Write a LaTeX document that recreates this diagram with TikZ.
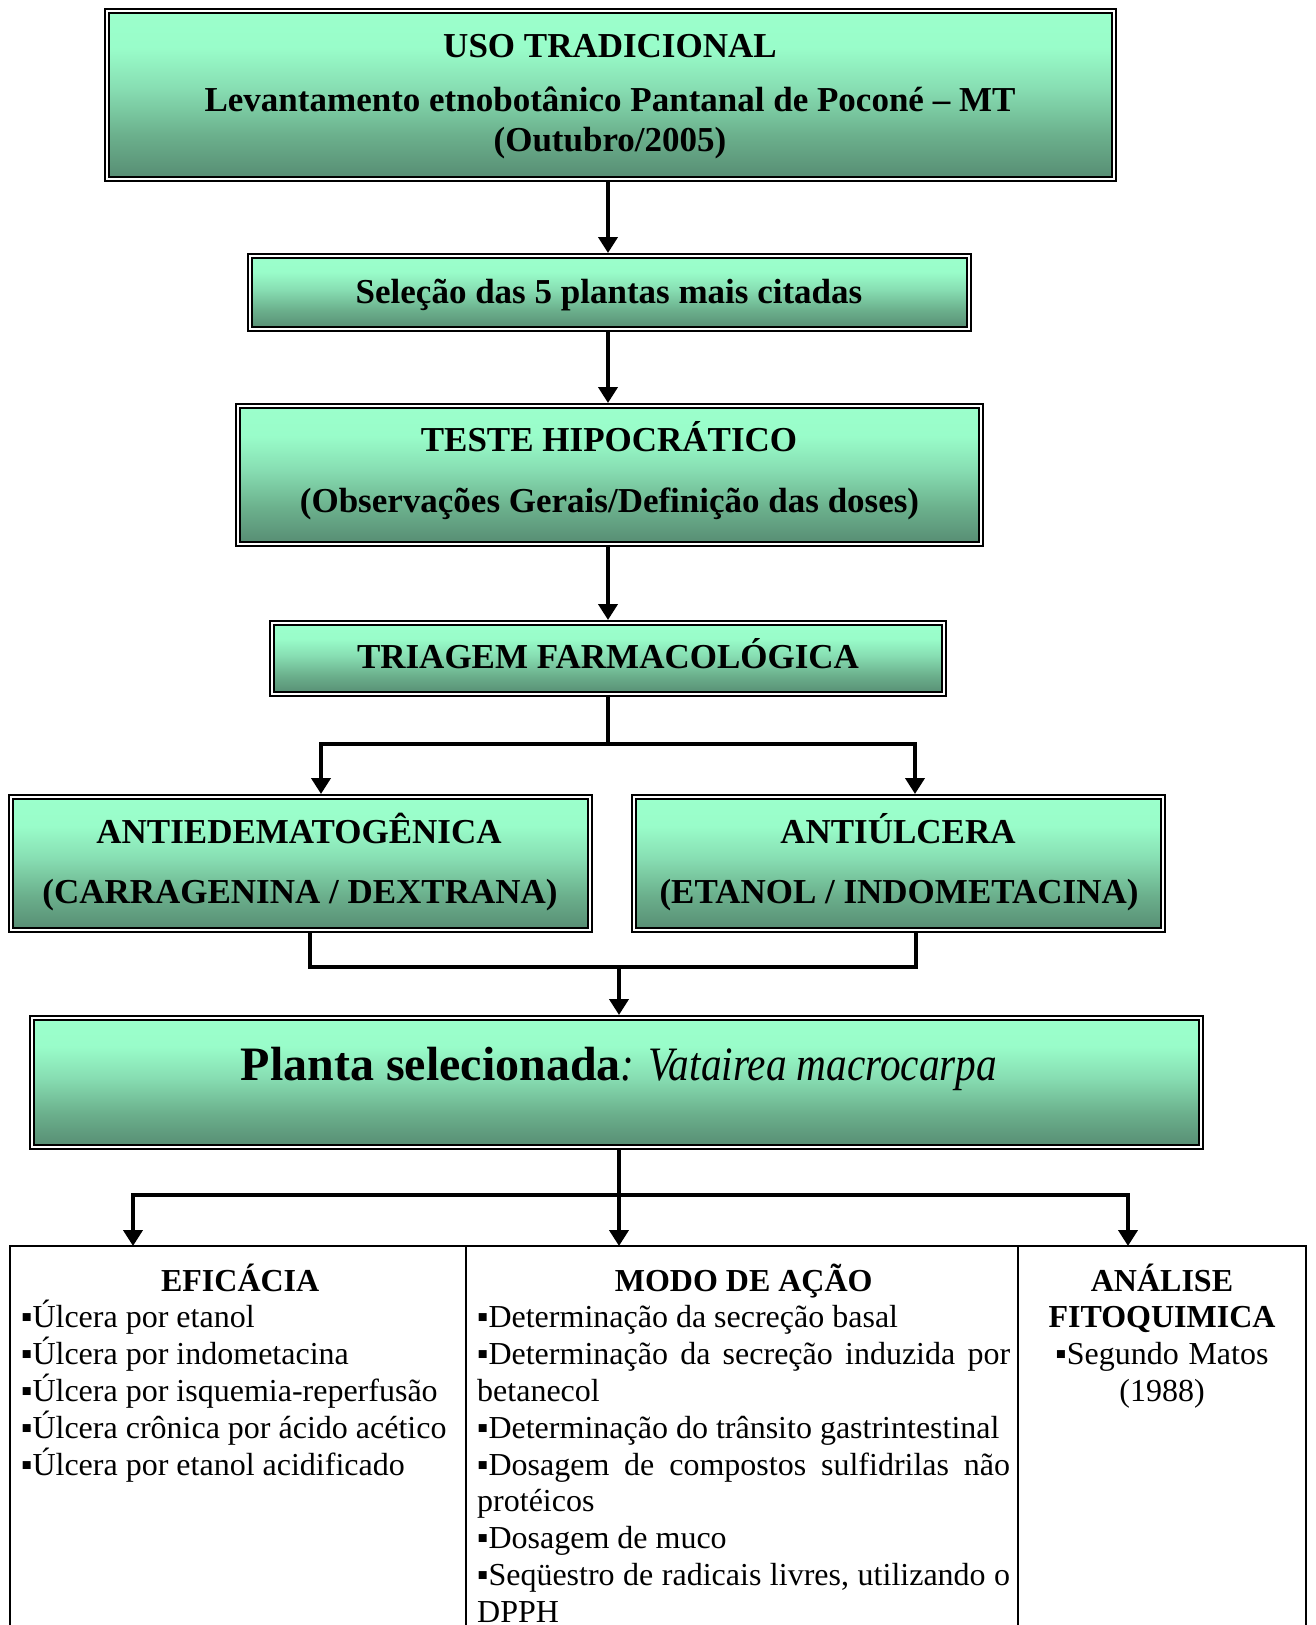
\documentclass[tikz,border=0pt]{standalone}
\usepackage{fontspec}
\setmainfont{Liberation Serif}
\newfontface\vatfont[FakeStretch=0.86]{Liberation Serif Italic}
\usetikzlibrary{arrows.meta}
\hyphenpenalty=10000
\exhyphenpenalty=10000
\pgfdeclareverticalshading{boxshade}{100bp}{%
 rgb(0bp)=(0.34,0.55,0.45);
 rgb(25bp)=(0.34,0.55,0.45);
 rgb(38bp)=(0.42,0.69,0.55);
 rgb(52bp)=(0.53,0.87,0.70);
 rgb(64bp)=(0.60,0.99,0.79);
 rgb(75bp)=(0.61,1.00,0.80);
 rgb(100bp)=(0.61,1.00,0.80)}
\begin{document}
\begin{tikzpicture}[x=1pt,y=-1pt,
  gbox/.style={shade, shading=boxshade, draw=black, line width=2.2pt, double=white, double distance=1.6pt, inner sep=0pt, outer sep=3pt},
  btxt/.style={font=\fontsize{35}{41}\selectfont\bfseries, inner sep=0pt, anchor=base},
  ln/.style={line width=4pt, line join=miter},
  arr/.style={ln, -{Triangle[length=16pt,width=19pt]}},
  cell/.style={draw=black, line width=1.8pt, inner sep=0pt, outer sep=0pt, anchor=north west, minimum height=420},
  tt/.style={font=\fontsize{32}{36.8}\selectfont, inner sep=0pt}]
\path[use as bounding box, fill=white] (0,0) rectangle (1315,1625);
% boxes
\node[gbox, minimum width=1007, minimum height=168] (b1) at (610.5,95) {};
\node[gbox, minimum width=719, minimum height=73] (b2) at (609.5,292.5) {};
\node[gbox, minimum width=743, minimum height=138] (b3) at (609.5,475) {};
\node[gbox, minimum width=672, minimum height=71] (b4) at (608,658.5) {};
\node[gbox, minimum width=579, minimum height=133] (b5l) at (300.5,863.5) {};
\node[gbox, minimum width=529, minimum height=133] (b5r) at (898.5,863.5) {};
\node[gbox, minimum width=1169, minimum height=129] (b6) at (616.5,1082.5) {};
% box texts
\node[btxt] (t1a) at (610,57) {USO TRADICIONAL};
\node[btxt] (t1b) at (610,111) {Levantamento etnobotânico Pantanal de Poconé – MT};
\node[btxt] (t1c) at (610,151) {(Outubro/2005)};
\node[btxt] (t2) at (609,303) {Seleção das 5 plantas mais citadas};
\node[btxt] (t3a) at (609,451) {TESTE HIPOCRÁTICO};
\node[btxt] (t3b) at (609.5,512) {(Observações Gerais/Definição das doses)};
\node[btxt] (t4) at (608,668) {TRIAGEM FARMACOLÓGICA};
\node[btxt] (t5a) at (299,843) {ANTIEDEMATOGÊNICA};
\node[btxt] (t5b) at (300,903) {(CARRAGENINA / DEXTRANA)};
\node[btxt] (t5c) at (898,843) {ANTIÚLCERA};
\node[btxt] (t5d) at (899,903) {(ETANOL / INDOMETACINA)};
\node[inner sep=0pt, anchor=base] (t6) at (619,1080) {\fontsize{48}{52}\selectfont\bfseries Planta selecionada\vatfont: Vatairea macrocarpa};
% table cells
\node[cell, minimum width=456] (c1) at (10,1246) {};
\node[cell, minimum width=552] (c2) at (466,1246) {};
\node[cell, minimum width=288] (c3) at (1018,1246) {};
\node[tt, anchor=base west, text width=438, align=left] (x1) at (21,1291)
 {\spaceskip=0pt\xspaceskip=0pt{\centering\bfseries EFICÁCIA\par}▪Úlcera por etanol\par ▪Úlcera por indometacina\par ▪Úlcera por isquemia-reperfusão\par ▪Úlcera crônica por ácido acético\par ▪Úlcera por etanol acidificado\par};
\node[tt, anchor=base west, text width=533, align=justify] (x2) at (477,1291)
 {{\centering\bfseries MODO DE AÇÃO\par}▪Determinação da secreção basal\par ▪Determinação da secreção induzida por betanecol\par ▪Determinação do trânsito gastrintestinal\par ▪Dosagem de compostos sulfidrilas não protéicos\par ▪Dosagem de muco\par ▪Seqüestro de radicais livres, utilizando o DPPH\par};
\node[tt, anchor=base, text width=270, align=center] (x3) at (1162,1291)
 {\spaceskip=0pt\xspaceskip=0pt\textbf{ANÁLISE}\\\textbf{FITOQUIMICA}\\▪Segundo Matos\\(1988)};
% connectors
\coordinate (s4) at (608,744);
\coordinate (p5l) at (321,0);
\coordinate (p5r) at (915,0);
\coordinate (q5l) at (310,967);
\coordinate (q5r) at (916,967);
\coordinate (s5) at (619,967);
\coordinate (s6) at (619,1195);
\coordinate (a1) at (133,1195);
\coordinate (a3) at (1128,1195);
\draw[arr] (b1.south -| b4.south) -- (b2.north -| b4.south);
\draw[arr] (b2.south -| b4.south) -- (b3.north -| b4.south);
\draw[arr] (b3.south -| b4.south) -- (b4.north);
\draw[ln] (b4.south) -- (s4);
\draw[arr] (s4) -| (b5l.north -| p5l);
\draw[arr] (s4) -| (b5r.north -| p5r);
\draw[ln] (b5l.south -| q5l) |- (q5r) -- (b5r.south -| q5r);
\draw[arr] (s5) -- (b6.north -| s5);
\draw[arr] (b6.south -| s6) -- (c2.north -| s6);
\draw[arr] (s6) -| (c1.north -| a1);
\draw[arr] (s6) -| (c3.north -| a3);
\end{tikzpicture}
\end{document}
